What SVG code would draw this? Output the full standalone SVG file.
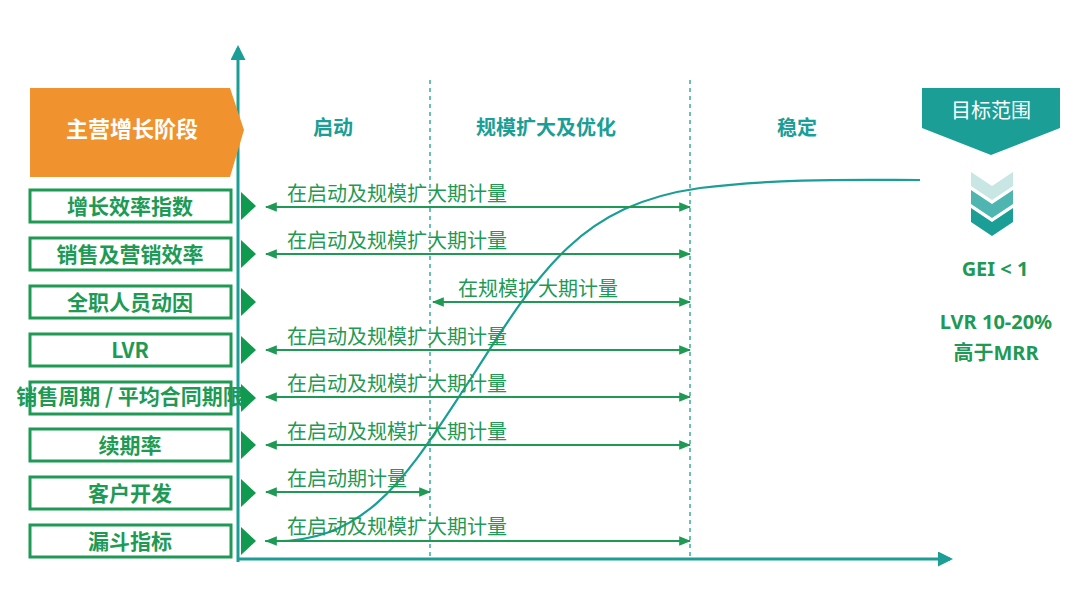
<svg xmlns="http://www.w3.org/2000/svg" width="1080" height="614" viewBox="0 0 1080 614">
<defs>
<style>
.box{fill:#fff;stroke:#1e9a55;stroke-width:3}
.lbl{font-family:"Noto Sans CJK SC","Noto Sans",sans-serif;font-weight:bold;fill:#1e9a55;font-size:21px;text-anchor:middle}
.tri{fill:#0f9a4f}
.arr{stroke:#1e9a55;stroke-width:2;fill:none;marker-start:url(#ah);marker-end:url(#ah)}
.at{font-family:"Noto Sans CJK SC","Noto Sans",sans-serif;fill:#1e9a55;font-size:20px}
.ph{font-family:"Noto Sans CJK SC","Noto Sans",sans-serif;font-weight:bold;fill:#1a9e96;font-size:20px;text-anchor:middle}
.dash{stroke:#1a9e96;stroke-width:1.3;stroke-dasharray:4 4}
.res{font-family:"Noto Sans","Noto Sans CJK SC",sans-serif;font-weight:bold;fill:#1e9a55;font-size:20px;text-anchor:middle}
</style>
<marker id="ah" viewBox="0 0 10 10" refX="9" refY="5" markerWidth="6" markerHeight="6" orient="auto-start-reverse"><path d="M0,1 L10,5 L0,9 z" fill="#1e9a55"/></marker>
<marker id="ax" viewBox="0 0 10 10" refX="8" refY="5" markerWidth="5" markerHeight="5" orient="auto"><path d="M0,0 L10,5 L0,10 z" fill="#1a9e96"/></marker>
</defs>
<rect width="1080" height="614" fill="#fff"/>
<g id="axes">
<line x1="238" y1="562" x2="238" y2="48" stroke="#1a9e96" stroke-width="3" marker-end="url(#ax)"/>
<line x1="237" y1="559" x2="950" y2="559" stroke="#1a9e96" stroke-width="3" marker-end="url(#ax)"/>
<line class="dash" x1="430" y1="80" x2="430" y2="558"/>
<line class="dash" x1="690" y1="80" x2="690" y2="558"/>
</g>
<g id="header">
<polygon points="30,88 230,88 244,130 230,177 30,177" fill="#f0922e"/>
<text x="132" y="137" font-family="Noto Sans CJK SC,sans-serif" font-weight="bold" font-size="22" fill="#fff" text-anchor="middle">主营增长阶段</text>
<text class="ph" x="333" y="135">启动</text>
<text class="ph" x="546" y="135">规模扩大及优化</text>
<text class="ph" x="797" y="135">稳定</text>
</g>
<g id="rows">
<g id="r1"><rect class="box" x="30" y="190" width="201" height="32"/><text class="lbl" x="130" y="214">增长效率指数</text><polygon class="tri" points="241,192 256,206 241,220"/></g>
<g id="r2"><rect class="box" x="30" y="238" width="201" height="32"/><text class="lbl" x="130" y="262">销售及营销效率</text><polygon class="tri" points="241,240 256,254 241,268"/></g>
<g id="r3"><rect class="box" x="30" y="286" width="201" height="32"/><text class="lbl" x="130" y="310">全职人员动因</text><polygon class="tri" points="241,288 256,302 241,316"/></g>
<g id="r4"><rect class="box" x="30" y="334" width="201" height="32"/><text class="lbl" x="130" y="358">LVR</text><polygon class="tri" points="241,336 256,350 241,364"/></g>
<g id="r5"><rect class="box" x="30" y="382" width="201" height="32"/><text class="lbl" x="130" y="404" font-size="15">销售周期 / 平均合同期限</text><polygon class="tri" points="241,384 256,398 241,412"/></g>
<g id="r6"><rect class="box" x="30" y="429" width="201" height="32"/><text class="lbl" x="130" y="453">续期率</text><polygon class="tri" points="241,431 256,445 241,459"/></g>
<g id="r7"><rect class="box" x="30" y="477" width="201" height="32"/><text class="lbl" x="130" y="501">客户开发</text><polygon class="tri" points="241,479 256,493 241,507"/></g>
<g id="r8"><rect class="box" x="30" y="525" width="201" height="32"/><text class="lbl" x="130" y="549">漏斗指标</text><polygon class="tri" points="241,527 256,541 241,555"/></g>
</g>
<g id="connectors">
<path d="M265,541 C370,546 410,470 470,380 C540,270 580,205 700,188 C780,178 860,180 920,180" stroke="#1a9e96" stroke-width="2.2" fill="none"/>
<line class="arr" x1="266" y1="207" x2="690" y2="207"/><text class="at" x="287" y="201">在启动及规模扩大期计量</text>
<line class="arr" x1="266" y1="254" x2="690" y2="254"/><text class="at" x="287" y="248">在启动及规模扩大期计量</text>
<line class="arr" x1="433" y1="302" x2="690" y2="302"/><text class="at" x="458" y="296">在规模扩大期计量</text>
<line class="arr" x1="266" y1="350" x2="690" y2="350"/><text class="at" x="287" y="344">在启动及规模扩大期计量</text>
<line class="arr" x1="266" y1="397" x2="690" y2="397"/><text class="at" x="287" y="391">在启动及规模扩大期计量</text>
<line class="arr" x1="266" y1="445" x2="690" y2="445"/><text class="at" x="287" y="439">在启动及规模扩大期计量</text>
<line class="arr" x1="266" y1="492" x2="430" y2="492"/><text class="at" x="287" y="486">在启动期计量</text>
<line class="arr" x1="266" y1="541" x2="690" y2="541"/><text class="at" x="287" y="534">在启动及规模扩大期计量</text>
</g>
<g id="target">
<polygon points="922,88 1060,88 1060,128 991,155 922,128" fill="#1a9e96"/>
<text x="991" y="118" font-family="Noto Sans CJK SC,sans-serif" font-size="20" fill="#fff" text-anchor="middle">目标范围</text>
<polygon points="971,172 992,186 1013,172 1013,186 992,200 971,186" fill="#c8e6e4"/>
<polygon points="971,190 992,204 1013,190 1013,204 992,218 971,204" fill="#4fb5b0"/>
<polygon points="971,208 992,222 1013,208 1013,222 992,236 971,222" fill="#1a9e96"/>
<text class="res" x="995" y="276">GEI &lt; 1</text>
<text class="res" x="996" y="329">LVR 10-20%</text>
<text class="res" x="996" y="360">高于MRR</text>
</g>
</svg>
